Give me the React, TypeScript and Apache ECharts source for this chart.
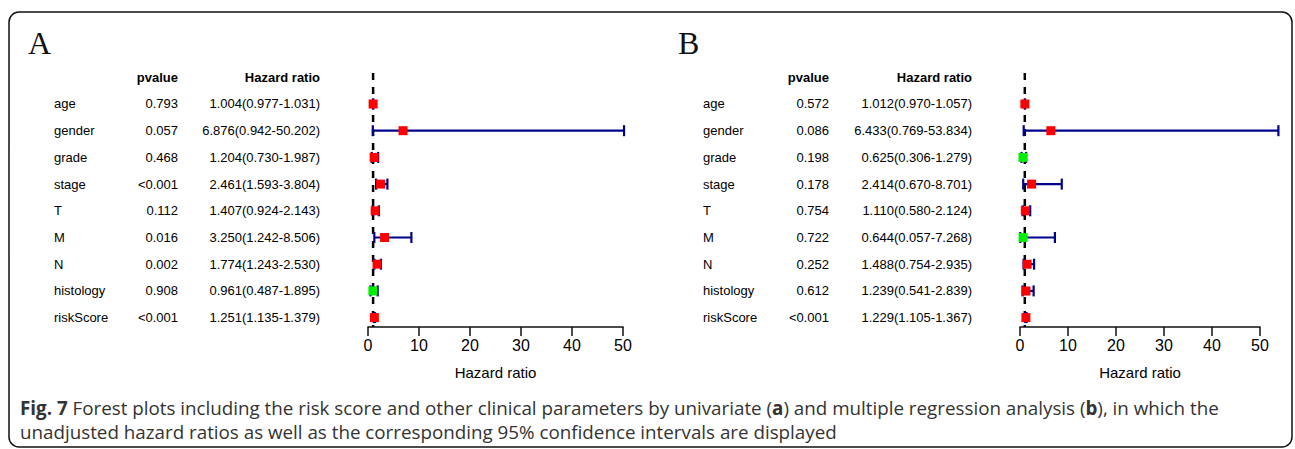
import React, { useEffect, useRef } from "react";
import * as echarts from "echarts";

const variables = ["age", "gender", "grade", "stage", "T", "M", "N", "histology", "riskScore"];

const pvalueA = ["0.793", "0.057", "0.468", "<0.001", "0.112", "0.016", "0.002", "0.908", "<0.001"];
const hrA = [1.004, 6.876, 1.204, 2.461, 1.407, 3.25, 1.774, 0.961, 1.251];
const lowA = [0.977, 0.942, 0.73, 1.593, 0.924, 1.242, 1.243, 0.487, 1.135];
const highA = [1.031, 50.202, 1.987, 3.804, 2.143, 8.506, 2.53, 1.895, 1.379];

const pvalueB = ["0.572", "0.086", "0.198", "0.178", "0.754", "0.722", "0.252", "0.612", "<0.001"];
const hrB = [1.012, 6.433, 0.625, 2.414, 1.11, 0.644, 1.488, 1.239, 1.229];
const lowB = [0.97, 0.769, 0.306, 0.67, 0.58, 0.057, 0.754, 0.541, 1.105];
const highB = [1.057, 53.834, 1.279, 8.701, 2.124, 7.268, 2.935, 2.839, 1.367];

const xMin = 0;
const xMax = 50;
const xInterval = 10;
const refLine = 1;

const captionLine1 = [
  { t: "Fig. 7", bold: true },
  { t: " Forest plots including the risk score and other clinical parameters by univariate (", bold: false },
  { t: "a", bold: true },
  { t: ") and multiple regression analysis (", bold: false },
  { t: "b", bold: true },
  { t: "), in which the", bold: false },
];
const captionLine2 = "unadjusted hazard ratios as well as the corresponding 95% confidence intervals are displayed";

const FONT = "'Liberation Sans', Arial, Helvetica, sans-serif";
const CAP_FONT = "'Open Sans', 'Noto Sans', sans-serif";
const CAP_SIZE = 18.8;

const fmt = (v: number) => v.toFixed(3);

interface PanelLayout {
  letter: string;
  letterX: number;
  left: number;
  width: number;
  labelX: number;
  pX: number;
  hrX: number;
}

const layouts: PanelLayout[] = [
  { letter: "A", letterX: 28, left: 368, width: 255, labelX: 54, pX: 178, hrX: 320 },
  { letter: "B", letterX: 678, left: 1020, width: 240, labelX: 703, pX: 829, hrX: 972 },
];

const panels = [
  { pvalue: pvalueA, hr: hrA, low: lowA, high: highA },
  { pvalue: pvalueB, hr: hrB, low: lowB, high: highB },
];

const GRID_TOP = 73;
const GRID_H = 254;
const Y_MIN = -1.161;
const Y_MAX = 8.352;

export default function App() {
  const ref = useRef<HTMLDivElement>(null);

  useEffect(() => {
    if (!ref.current) return;
    const chart = echarts.init(ref.current, undefined, { renderer: "svg" });

    const grids: any[] = [];
    const xAxes: any[] = [];
    const yAxes: any[] = [];
    const series: any[] = [];

    layouts.forEach((L, gi) => {
      const P = panels[gi];
      grids.push({ left: L.left, top: GRID_TOP, width: L.width, height: GRID_H, containLabel: false });
      xAxes.push({
        type: "value",
        gridIndex: gi,
        min: xMin,
        max: xMax,
        interval: xInterval,
        axisLine: { show: true, onZero: false, lineStyle: { color: "#111", width: 1.5 } },
        axisTick: { show: true, length: 9, lineStyle: { color: "#111", width: 1.5 } },
        axisLabel: { color: "#000", fontSize: 16, fontFamily: FONT, margin: 10 },
        splitLine: { show: false },
        name: "Hazard ratio",
        nameLocation: "middle",
        nameGap: 38,
        nameTextStyle: { color: "#000", fontSize: 15, fontFamily: FONT },
      });
      yAxes.push({
        type: "value",
        gridIndex: gi,
        min: Y_MIN,
        max: Y_MAX,
        inverse: true,
        show: false,
        splitLine: { show: false },
      });

      // reference dashed line at HR = 1
      series.push({
        type: "line",
        xAxisIndex: gi,
        yAxisIndex: gi,
        data: [
          [refLine, Y_MIN],
          [refLine, Y_MAX],
        ],
        symbol: "none",
        silent: true,
        z: 1,
        lineStyle: { color: "#000", width: 2.5, type: [7, 7] },
      });

      // confidence intervals + squares
      series.push({
        type: "custom",
        xAxisIndex: gi,
        yAxisIndex: gi,
        clip: false,
        z: 3,
        data: variables.map((_, i) => [i, P.hr[i], P.low[i], P.high[i]]),
        encode: { x: [1, 2, 3], y: 0 },
        renderItem: (params: any, api: any) => {
          const i = api.value(0);
          const hr = api.value(1);
          const lo = api.value(2);
          const hi = api.value(3);
          const pHr = api.coord([hr, i]);
          const pLo = api.coord([lo, i]);
          const pHi = api.coord([hi, i]);
          const y = pHr[1];
          const blue = "#00008B";
          const cap = 5.5;
          const sq = 9;
          return {
            type: "group",
            children: [
              {
                type: "line",
                shape: { x1: pLo[0], y1: y, x2: pHi[0], y2: y },
                style: { stroke: blue, lineWidth: 2.2 },
              },
              {
                type: "line",
                shape: { x1: pLo[0], y1: y - cap, x2: pLo[0], y2: y + cap },
                style: { stroke: blue, lineWidth: 2.2 },
              },
              {
                type: "line",
                shape: { x1: pHi[0], y1: y - cap, x2: pHi[0], y2: y + cap },
                style: { stroke: blue, lineWidth: 2.2 },
              },
              {
                type: "rect",
                shape: { x: pHr[0] - sq / 2, y: y - sq / 2, width: sq, height: sq },
                style: { fill: hr > 1 ? "#ff0000" : "#00ee00" },
              },
            ],
          };
        },
      });

      // table text
      series.push({
        type: "custom",
        xAxisIndex: gi,
        yAxisIndex: gi,
        clip: false,
        z: 2,
        silent: true,
        data: variables.map((_, i) => [0, i]),
        encode: { x: 0, y: 1 },
        renderItem: (params: any, api: any) => {
          const i = api.value(1);
          const y = api.coord([0, i])[1];
          const base = { fill: "#000", fontSize: 13, fontFamily: FONT, verticalAlign: "middle" };
          return {
            type: "group",
            children: [
              { type: "text", x: L.labelX, y, style: { ...base, text: variables[i], align: "left" } },
              { type: "text", x: L.pX, y, style: { ...base, text: P.pvalue[i], align: "right" } },
              {
                type: "text",
                x: L.hrX,
                y,
                style: {
                  ...base,
                  text: `${fmt(P.hr[i])}(${fmt(P.low[i])}-${fmt(P.high[i])})`,
                  align: "right",
                },
              },
            ],
          };
        },
      });

      // headers
      series.push({
        type: "custom",
        xAxisIndex: gi,
        yAxisIndex: gi,
        clip: false,
        silent: true,
        z: 2,
        data: [[0, -1]],
        encode: { x: 0, y: 1 },
        renderItem: (params: any, api: any) => {
          const y = api.coord([0, api.value(1)])[1];
          const base = {
            fill: "#000",
            fontSize: 13,
            fontWeight: "bold",
            fontFamily: FONT,
            verticalAlign: "middle",
            align: "right",
          };
          return {
            type: "group",
            children: [
              { type: "text", x: L.pX, y, style: { ...base, text: "pvalue" } },
              { type: "text", x: L.hrX, y, style: { ...base, text: "Hazard ratio" } },
            ],
          };
        },
      });
    });

    const richBold = { fontWeight: "bold", fontSize: CAP_SIZE, fontFamily: CAP_FONT, fill: "#333" } as any;
    const richNorm = { fontWeight: "normal", fontSize: CAP_SIZE, fontFamily: CAP_FONT, fill: "#333" } as any;

    const graphic: any[] = [
      {
        type: "rect",
        shape: { x: 9, y: 12, width: 1283, height: 435, r: 10 },
        style: { fill: "none", stroke: "#111", lineWidth: 1.5 },
        z: 0,
      },
      ...layouts.map((L) => ({
        type: "text",
        x: L.letterX,
        y: 43,
        style: {
          text: L.letter,
          fill: "#111",
          fontSize: 32,
          fontFamily: "'Liberation Serif', 'Times New Roman', serif",
          verticalAlign: "middle",
          align: "left",
        },
      })),
      {
        type: "text",
        x: 20,
        y: 408,
        style: {
          text: captionLine1.map((s) => (s.bold ? `{b|${s.t}}` : `{n|${s.t}}`)).join(""),
          rich: { b: richBold, n: richNorm },
          fontSize: CAP_SIZE,
          fontFamily: CAP_FONT,
          fill: "#333",
          verticalAlign: "middle",
          align: "left",
        },
      },
      {
        type: "text",
        x: 20,
        y: 432,
        style: {
          text: captionLine2,
          fontSize: CAP_SIZE,
          fontFamily: CAP_FONT,
          fill: "#333",
          verticalAlign: "middle",
          align: "left",
        },
      },
    ];

    chart.setOption({
      animation: false,
      backgroundColor: "#fff",
      grid: grids,
      xAxis: xAxes,
      yAxis: yAxes,
      series,
      graphic,
    });

    return () => chart.dispose();
  }, []);

  return (
    <div
      ref={ref}
      style={{ position: "absolute", left: 0, top: 0, width: 1295, height: 449, background: "#fff" }}
    />
  );
}
